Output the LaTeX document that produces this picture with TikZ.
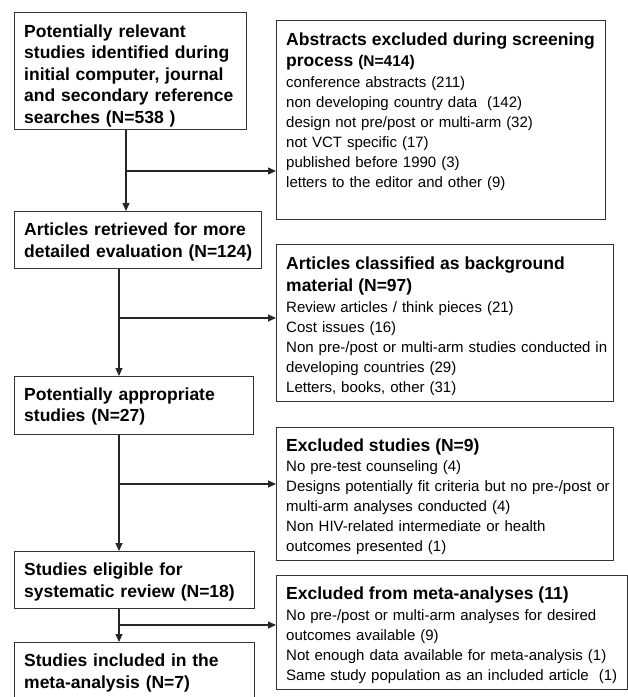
\documentclass[tikz,border=0pt]{standalone}
\usepackage{fontspec}
\setmainfont{Liberation Sans}
\usetikzlibrary{arrows.meta}
\newcommand{\hfnt}{\fontsize{17.5}{20}\selectfont\bfseries}
\begin{document}
\begin{tikzpicture}[x=1pt,y=-1pt,
  box/.style={draw=black!80, line width=1.1pt, rectangle, inner sep=0pt, anchor=north west},
  lefttxt/.style={anchor=base west, inner sep=0pt, align=left, text width=#1,
    font=\fontsize{17.5}{21.5}\selectfont\bfseries},
  righttxt/.style={anchor=base west, inner sep=0pt, align=left, text width=#1,
    font=\fontsize{15}{20}\selectfont},
  arr/.style={draw=black!85, line width=1.1pt, -{Triangle[length=8pt,width=7pt]}}
]
\useasboundingbox (0,0) rectangle (628,697);

% left column boxes
\node[box, minimum width=232pt, minimum height=117pt] (b1) at (14,12) {};
\node[box, minimum width=247pt, minimum height=57pt] (b2) at (14,211) {};
\node[box, minimum width=239pt, minimum height=58pt] (b3) at (14,376) {};
\node[box, minimum width=240pt, minimum height=57pt] (b4) at (14,551) {};
\node[box, minimum width=240pt, minimum height=60pt] (b5) at (14,642) {};

% right column boxes
\node[box, minimum width=329pt, minimum height=199pt] (r1) at (276,20) {};
\node[box, minimum width=337pt, minimum height=157pt] (r2) at (276,244) {};
\node[box, minimum width=337pt, minimum height=133pt] (r3) at (276,427) {};
\node[box, minimum width=351pt, minimum height=114pt] (r4) at (276,575) {};

% left texts
\node[lefttxt=218pt] (t1) at (24,37.3) {Potentially relevant\\studies identified during\\initial computer, journal\\and secondary reference\\searches (N=538 )};
\node[lefttxt=233pt] (t2) at (24,235.5) {Articles retrieved for more\\detailed evaluation (N=124)};
\node[lefttxt=225pt] (t3) at (24,400) {Potentially appropriate\\studies (N=27)};
\node[lefttxt=226pt] (t4) at (24,575.5) {Studies eligible for\\systematic review (N=18)};
\node[lefttxt=226pt] (t5) at (24,666.5) {Studies included in the\\meta-analysis (N=7)};

% right texts
\node[righttxt=316pt] (s1) at (286,45) {{\hfnt Abstracts excluded during screening}\\[1.5pt]
{\hfnt process} {\fontsize{15.5}{20}\selectfont\bfseries (N=414)}\\[1pt]
conference abstracts (211)\\
non developing country data~ (142)\\
design not pre/post or multi-arm (32)\\
not VCT specific (17)\\
published before 1990 (3)\\
letters to the editor and other (9)};
\node[righttxt=325pt] (s2) at (286,269.5) {{\hfnt Articles classified as background}\\[1.5pt]
{\hfnt material (N=97)}\\[1pt]
Review articles / think pieces (21)\\
Cost issues (16)\\
Non pre-/post or multi-arm studies conducted in\\
developing countries (29)\\
Letters, books, other (31)};
\node[righttxt=325pt] (s3) at (286,451) {{\hfnt Excluded studies (N=9)}\\[0.5pt]
No pre-test counseling (4)\\
Designs potentially fit criteria but no pre-/post or\\
multi-arm analyses conducted (4)\\
Non HIV-related intermediate or health\\
outcomes presented (1)};
\node[righttxt=338pt] (s4) at (286,599.5) {{\hfnt Excluded from meta-analyses (11)}\\[1pt]
No pre-/post or multi-arm analyses for desired\\
outcomes available (9)\\
Not enough data available for meta-analysis (1)\\
Same study population as an included article~ (1)};

% connectors
\coordinate (j1) at (126,171);
\coordinate (j2) at (119,318);
\coordinate (j3) at (119,484);
\coordinate (j4) at (119,625);

\draw[arr] (j1 |- b1.south) -- (j1 |- b2.north);
\draw[arr] (j1) -- (j1 -| r1.west);
\draw[arr] (j2 |- b2.south) -- (j2 |- b3.north);
\draw[arr] (j2) -- (j2 -| r2.west);
\draw[arr] (j3 |- b3.south) -- (j3 |- b4.north);
\draw[arr] (j3) -- (j3 -| r3.west);
\draw[arr] (j4 |- b4.south) -- (j4 |- b5.north);
\draw[arr] (j4) -- (j4 -| r4.west);
\end{tikzpicture}
\end{document}
